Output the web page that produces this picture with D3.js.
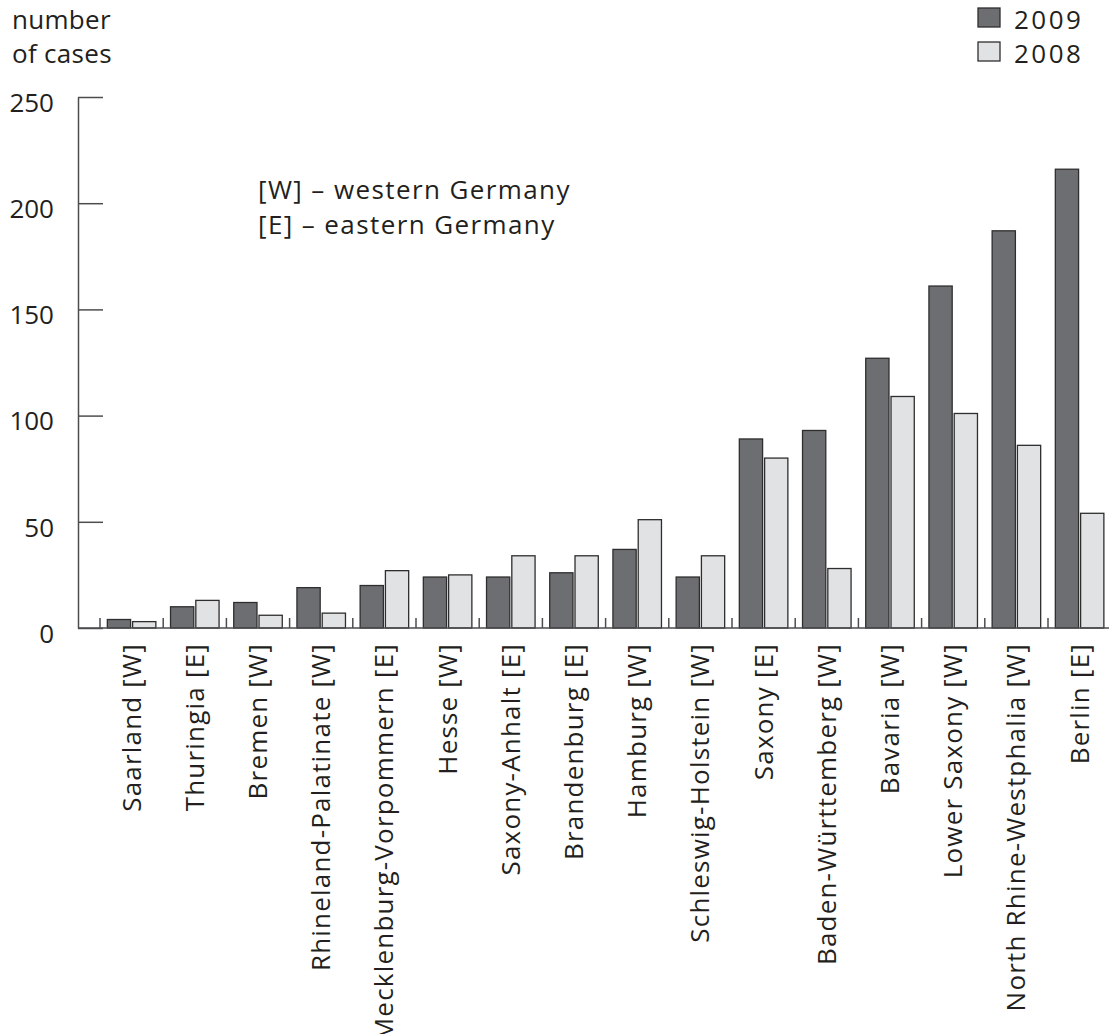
<!DOCTYPE html>
<html>
<head>
<meta charset="utf-8">
<script src="https://cdn.jsdelivr.net/npm/d3@7"></script>
<style>
  body { margin: 0; background: #fff; }
  text { font-family: "Open Sans", sans-serif; fill: #231f20; }
</style>
</head>
<body>
<svg width="1109" height="1034"></svg>
<script>
const states = ["Saarland [W]", "Thuringia [E]", "Bremen [W]", "Rhineland-Palatinate [W]",
  "Mecklenburg-Vorpommern [E]", "Hesse [W]", "Saxony-Anhalt [E]", "Brandenburg [E]",
  "Hamburg [W]", "Schleswig-Holstein [W]", "Saxony [E]", "Baden-Württemberg [W]",
  "Bavaria [W]", "Lower Saxony [W]", "North Rhine-Westphalia [W]", "Berlin [E]"];
const cases2009 = [4, 10, 12, 19, 20, 24, 24, 26, 37, 24, 89, 93, 127, 161, 187, 216];
const cases2008 = [3, 13, 6, 7, 27, 25, 34, 34, 51, 34, 80, 28, 109, 101, 86, 54];
const years = ["2009", "2008"];
const yTicks = [0, 50, 100, 150, 200, 250];

const svg = d3.select("svg");
const colors = { "2009": "#6d6e71", "2008": "#e1e2e3" };

const x = d3.scaleBand().domain(states).range([100, 1111.2]);
const xs = d3.scaleBand().domain(years).range([0, x.bandwidth()])
  .paddingOuter(0.29).paddingInner(0.08);
const y = d3.scaleLinear().domain([0, 250]).range([628, 97]);

const rows = states.map((s, i) => ({ state: s, "2009": cases2009[i], "2008": cases2008[i] }));

// y axis, ticks pointing into the plot
svg.append("g")
  .attr("transform", "translate(78,0)")
  .call(d3.axisLeft(y).tickValues(yTicks).tickSize(-25).tickSizeOuter(0).tickPadding(24))
  .call(g => {
    g.selectAll("line, path").attr("stroke", "#4d4d4f").attr("stroke-width", 1.5);
    g.selectAll("text").attr("font-size", 26).attr("dy", "0.55em")
      .attr("font-family", "Open Sans").attr("fill", "#231f20");
  });

// bars
svg.append("g").selectAll("g")
  .data(rows)
  .join("g")
  .attr("transform", d => `translate(${x(d.state)},0)`)
  .selectAll("rect")
  .data(d => years.map(k => ({ key: k, value: d[k] })))
  .join("rect")
  .attr("x", d => xs(d.key))
  .attr("width", xs.bandwidth())
  .attr("y", d => y(d.value))
  .attr("height", d => y(0) - y(d.value))
  .attr("fill", d => colors[d.key])
  .attr("stroke", "#2e2e2f")
  .attr("stroke-width", 1.3);

// baseline and group separators
svg.append("line")
  .attr("x1", 78).attr("x2", 1109)
  .attr("y1", y(0)).attr("y2", y(0))
  .attr("stroke", "#4d4d4f").attr("stroke-width", 1.5);

svg.append("g").selectAll("line")
  .data(states)
  .join("line")
  .attr("x1", d => x(d)).attr("x2", d => x(d))
  .attr("y1", y(0)).attr("y2", y(0) - 10)
  .attr("stroke", "#4d4d4f").attr("stroke-width", 1.5);

// category labels
svg.append("g").selectAll("text")
  .data(states)
  .join("text")
  .attr("transform", d => `translate(${x(d) + x.bandwidth() / 2 + 9},643) rotate(-90)`)
  .attr("text-anchor", "end")
  .attr("font-size", 26)
  .attr("letter-spacing", 1.2)
  .text(d => d);

// axis title
svg.append("text").attr("x", 12).attr("y", 29).attr("font-size", 26).attr("letter-spacing", 0.3).text("number");
svg.append("text").attr("x", 12).attr("y", 63).attr("font-size", 26).attr("letter-spacing", 0.3).text("of cases");

// note
svg.append("text").attr("x", 258).attr("y", 199).attr("font-size", 26).attr("letter-spacing", 1.4).text("[W] – western Germany");
svg.append("text").attr("x", 258).attr("y", 234).attr("font-size", 26).attr("letter-spacing", 1.4).text("[E] – eastern Germany");

// legend
const legend = svg.append("g").selectAll("g")
  .data(years)
  .join("g")
  .attr("transform", (d, i) => `translate(978,${8 + i * 34})`);
legend.append("rect")
  .attr("width", 22).attr("height", 19)
  .attr("fill", d => colors[d])
  .attr("stroke", "#2e2e2f").attr("stroke-width", 1.3);
legend.append("text")
  .attr("x", 36).attr("y", 21)
  .attr("font-size", 26)
  .attr("letter-spacing", 2.5)
  .text(d => d);
</script>
</body>
</html>
